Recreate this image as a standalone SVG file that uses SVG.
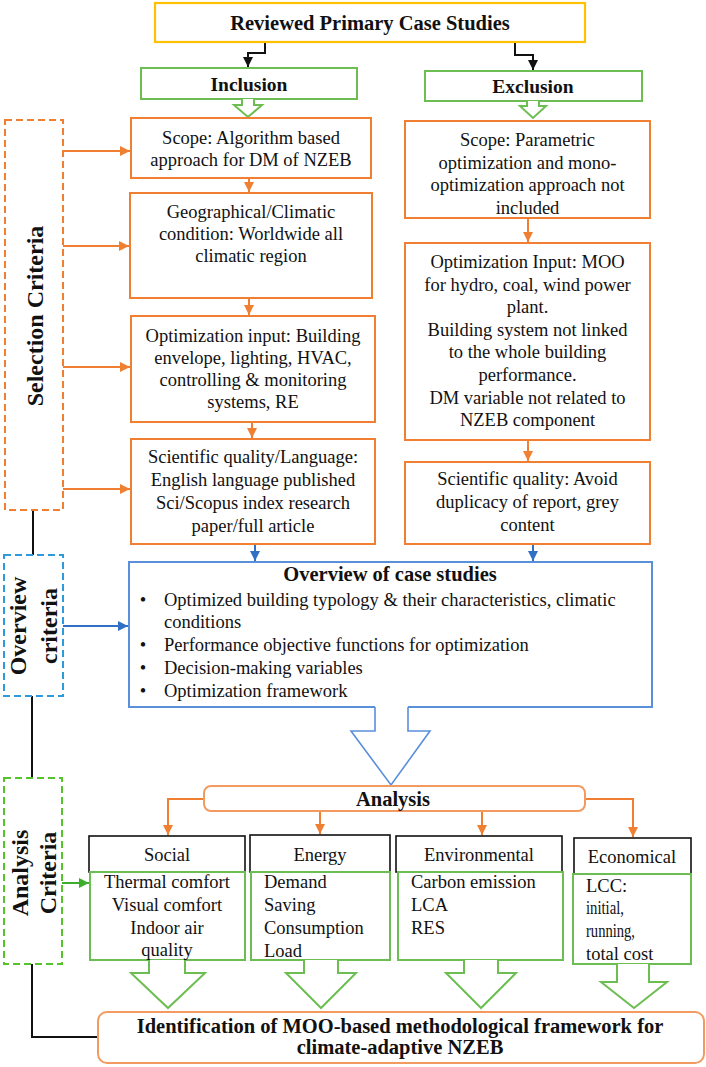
<svg xmlns="http://www.w3.org/2000/svg" width="706" height="1067" viewBox="0 0 706 1067" xml:space="preserve">
<style>
text{font-family:"Liberation Serif","Times New Roman",serif;fill:#111;}
.t{font-size:18.5px;}
.c{text-anchor:middle;}
.b{font-weight:bold;font-size:20.5px;}
.r{font-weight:bold;font-size:24px;text-anchor:middle;dominant-baseline:central;}
.ob{fill:#fff;stroke:#F07F32;stroke-width:2;}
.gb{fill:#fff;stroke:#6DBE52;stroke-width:2;}
.kb{fill:#fff;stroke:#111;stroke-width:1.6;}
.ol{fill:none;stroke:#F07F32;stroke-width:2;}
.bl{fill:none;stroke:#2F6FC4;stroke-width:2;}
.gl{fill:none;stroke:#3DAE2B;stroke-width:2;}
.kl{fill:none;stroke:#111;stroke-width:2;}
</style>
<defs>
<marker id="ao" markerUnits="userSpaceOnUse" markerWidth="11" markerHeight="10" refX="10" refY="5" orient="auto"><path d="M0,0 L10,5 L0,10 z" fill="#F07F32"/></marker>
<marker id="ab" markerUnits="userSpaceOnUse" markerWidth="11" markerHeight="10" refX="10" refY="5" orient="auto"><path d="M0,0 L10,5 L0,10 z" fill="#2F6FC4"/></marker>
<marker id="ag" markerUnits="userSpaceOnUse" markerWidth="11" markerHeight="10" refX="10" refY="5" orient="auto"><path d="M0,0 L10,5 L0,10 z" fill="#3DAE2B"/></marker>
<marker id="ak" markerUnits="userSpaceOnUse" markerWidth="11" markerHeight="10" refX="10" refY="5" orient="auto"><path d="M0,0 L10,5 L0,10 z" fill="#111"/></marker>
</defs>
<g id="connectors">
<path class="kl" d="M265,42 V53 H248 V67" marker-end="url(#ak)"/>
<path class="kl" d="M515,42 V55 H533 V70" marker-end="url(#ak)"/>
<path class="ol" d="M249,178 V192" marker-end="url(#ao)"/>
<path class="ol" d="M249,298 V315" marker-end="url(#ao)"/>
<path class="ol" d="M252,422 V438" marker-end="url(#ao)"/>
<path class="ol" d="M528,218 V242" marker-end="url(#ao)"/>
<path class="ol" d="M528,440 V461" marker-end="url(#ao)"/>
<path class="bl" d="M255,544 V561" marker-end="url(#ab)"/>
<path class="bl" d="M533,544 V561" marker-end="url(#ab)"/>
<path class="ol" d="M63,151 H130" marker-end="url(#ao)"/>
<path class="ol" d="M63,246 H129" marker-end="url(#ao)"/>
<path class="ol" d="M63,367 H130" marker-end="url(#ao)"/>
<path class="ol" d="M63,489 H130" marker-end="url(#ao)"/>
<path class="bl" d="M63,626 H128" marker-end="url(#ab)"/>
<path class="gl" d="M62,883 H89" marker-end="url(#ag)"/>
<path class="ol" d="M204,799 H168 V835" marker-end="url(#ao)"/>
<path class="ol" d="M585,799 H633 V837" marker-end="url(#ao)"/>
<path class="ol" d="M320,811 V834" marker-end="url(#ao)"/>
<path class="ol" d="M482,811 V835" marker-end="url(#ao)"/>
<path class="kl" d="M33,510 V555"/>
<path class="kl" d="M32,696 V778"/>
<path class="kl" d="M32,964 V1037 H98"/>
</g>
<g id="criteria-selection">
<rect x="5" y="120" width="58" height="390" fill="#fff" stroke="#F07F32" stroke-width="2" stroke-dasharray="7,4"/>
<text class="r" transform="translate(34.5,316) rotate(-90)">Selection Criteria</text>
</g>
<g id="criteria-overview">
<rect x="4" y="555" width="59" height="141" fill="#fff" stroke="#2D9BDB" stroke-width="2" stroke-dasharray="7,4"/>
<text class="r" transform="translate(33.5,626) rotate(-90)"><tspan x="0" y="-15.5">Overview</tspan><tspan x="0" y="15.5">criteria</tspan></text>
</g>
<g id="criteria-analysis">
<rect x="4" y="778" width="58" height="186" fill="#fff" stroke="#55C32A" stroke-width="2" stroke-dasharray="7,4"/>
<text class="r" transform="translate(34,873) rotate(-90)"><tspan x="0" y="-14">Analysis</tspan><tspan x="0" y="14">Criteria</tspan></text>
</g>
<g id="reviewed">
<rect x="155" y="3" width="430" height="39" fill="#fff" stroke="#FFC000" stroke-width="2.2"/>
<text class="b c" x="370" y="30">Reviewed Primary  Case Studies</text>
</g>
<g id="inclusion">
<rect class="gb" x="141" y="68" width="216" height="31"/>
<text class="b c" x="249" y="91" style="font-size:19.5px">Inclusion</text>
<path class="gb" d="M242,99 V105 H234 L248,117 L262,105 H254 V99"/>
</g>
<g id="exclusion">
<rect class="gb" x="425" y="71" width="217" height="30"/>
<text class="b c" x="533" y="93" style="font-size:19.5px">Exclusion</text>
<path class="gb" d="M527,101 V106 H520 L533,118 L546,106 H539 V101"/>
</g>
<g id="inc-scope">
<rect class="ob" x="131" y="118" width="240" height="60"/>
<text class="t c" x="251" y="144">Scope: Algorithm  based</text>
<text class="t c" x="251" y="166">approach for DM of NZEB</text>
</g>
<g id="inc-geo">
<rect class="ob" x="130" y="193" width="242" height="105"/>
<text class="t c" x="251" y="218">Geographical/Climatic</text>
<text class="t c" x="251" y="240">condition:  Worldwide all</text>
<text class="t c" x="251" y="262">climatic region</text>
</g>
<g id="inc-input">
<rect class="ob" x="131" y="316" width="244" height="106"/>
<text class="t c" x="253" y="342">Optimization  input:  Building</text>
<text class="t c" x="253" y="364">envelope, lighting,  HVAC,</text>
<text class="t c" x="253" y="386">controlling  &amp; monitoring</text>
<text class="t c" x="253" y="408">systems, RE</text>
</g>
<g id="inc-quality">
<rect class="ob" x="131" y="439" width="244" height="105"/>
<text class="t c" x="253" y="463">Scientific quality/Language:</text>
<text class="t c" x="253" y="486">English language published</text>
<text class="t c" x="253" y="509">Sci/Scopus index research</text>
<text class="t c" x="253" y="532">paper/full article</text>
</g>
<g id="exc-scope">
<rect class="ob" x="405" y="121" width="245" height="97"/>
<text class="t c" x="527.5" y="146">Scope: Parametric</text>
<text class="t c" x="527.5" y="168.5">optimization  and mono-</text>
<text class="t c" x="527.5" y="191">optimization  approach not</text>
<text class="t c" x="527.5" y="213.5">included</text>
</g>
<g id="exc-input">
<rect class="ob" x="405" y="243" width="245" height="197"/>
<text class="t c" x="527.5" y="268">Optimization  Input: MOO</text>
<text class="t c" x="527.5" y="290.6">for hydro, coal, wind power</text>
<text class="t c" x="527.5" y="313.2">plant.</text>
<text class="t c" x="527.5" y="335.8">Building  system not linked</text>
<text class="t c" x="527.5" y="358.4">to the whole building</text>
<text class="t c" x="527.5" y="381">performance.</text>
<text class="t c" x="527.5" y="403.6">DM variable not related to</text>
<text class="t c" x="527.5" y="426.2">NZEB component</text>
</g>
<g id="exc-quality">
<rect class="ob" x="405" y="462" width="245" height="82"/>
<text class="t c" x="527.5" y="485">Scientific quality:  Avoid</text>
<text class="t c" x="527.5" y="508">duplicacy of report, grey</text>
<text class="t c" x="527.5" y="531">content</text>
</g>
<g id="overview">
<path d="M375,707 H129 V562 H652 V707 H408" fill="#fff" stroke="#5A8FDA" stroke-width="2"/>
<text class="b c" x="390" y="581">Overview of case studies</text>
<text x="143" y="606" class="t c">•</text><text x="164" y="606" class="t">Optimized building  typology &amp; their characteristics, climatic</text>
<text x="164" y="628" class="t">conditions</text>
<text x="143" y="651" class="t c">•</text><text x="164" y="651" class="t">Performance objective functions for optimization</text>
<text x="143" y="674" class="t c">•</text><text x="164" y="674" class="t">Decision-making  variables</text>
<text x="143" y="697" class="t c">•</text><text x="164" y="697" class="t">Optimization  framework</text>
<path d="M375,707 V731 H351 L391,785 L430,731 H408 V707" fill="#fff" stroke="#5A8FDA" stroke-width="1.6"/>
</g>
<g id="analysis">
<rect x="204" y="786" width="381" height="25" rx="7" fill="#fff" stroke="#F29A60" stroke-width="2"/>
<text class="b c" x="393" y="806">Analysis</text>
</g>
<g id="social">
<rect class="kb" x="89" y="836" width="156" height="36"/>
<text class="t c" x="167" y="861">Social</text>
<rect class="gb" x="90" y="872" width="155" height="88"/>
<text class="t c" x="167" y="888">Thermal comfort</text>
<text class="t c" x="167" y="911">Visual comfort</text>
<text class="t c" x="167" y="934">Indoor air</text>
<text class="t c" x="167" y="956">quality</text>
<path class="gb" d="M149,960 V973 H131 L168,1008 L205,973 H185 V960"/>
</g>
<g id="energy">
<rect class="kb" x="250" y="835" width="140" height="37"/>
<text class="t c" x="320" y="861">Energy</text>
<rect class="gb" x="251" y="872" width="139" height="88"/>
<text class="t" x="264" y="888">Demand</text>
<text class="t" x="264" y="911">Saving</text>
<text class="t" x="264" y="934">Consumption</text>
<text class="t" x="264" y="957">Load</text>
<path class="gb" d="M304,960 V973 H286 L321,1008 L356,973 H338 V960"/>
</g>
<g id="environmental">
<rect class="kb" x="396" y="836" width="166" height="36"/>
<text class="t c" x="479" y="861">Environmental</text>
<rect class="gb" x="398" y="872" width="165" height="88"/>
<text class="t" x="411" y="888">Carbon emission</text>
<text class="t" x="411" y="911">LCA</text>
<text class="t" x="411" y="934">RES</text>
<path class="gb" d="M464,960 V973 H446 L481,1008 L516,973 H498 V960"/>
</g>
<g id="economical">
<rect class="kb" x="574" y="838" width="117" height="36"/>
<text class="t c" x="632" y="863">Economical</text>
<rect class="gb" x="573" y="874" width="118" height="90"/>
<text class="t" x="586" y="892">LCC:</text>
<text class="t" x="586" y="914" textLength="38" lengthAdjust="spacingAndGlyphs">initial,</text>
<text class="t" x="586" y="937" textLength="49" lengthAdjust="spacingAndGlyphs">running,</text>
<text class="t" x="586" y="960">total cost</text>
<path class="gb" d="M617,964 V982 H601 L634,1008 L667,982 H649 V964"/>
</g>
<g id="identification">
<rect x="98" y="1012" width="606" height="51" rx="9" fill="#fff" stroke="#F29A60" stroke-width="2"/>
<text class="b c" x="400" y="1033">Identification  of MOO-based methodological  framework  for</text>
<text class="b c" x="400" y="1054">climate-adaptive  NZEB</text>
</g>
</svg>
